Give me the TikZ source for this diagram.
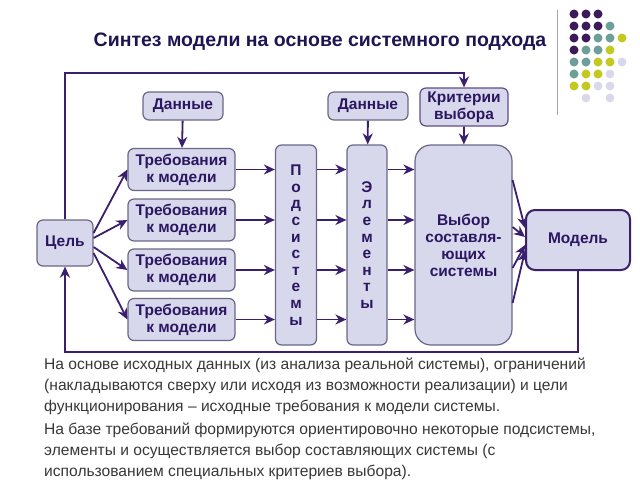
\documentclass[tikz,border=0pt]{standalone}
\usepackage{fontspec}
\setmainfont{Liberation Sans}
\usetikzlibrary{arrows.meta}

\definecolor{boxfill}{HTML}{D8D8EC}
\definecolor{boxline}{HTML}{6A6688}
\definecolor{inkpurple}{HTML}{2B1661}
\definecolor{flowpurple}{HTML}{3A1F6E}
\definecolor{titleblue}{HTML}{1F1452}
\definecolor{bodygray}{HTML}{383838}
\definecolor{dotpurple}{HTML}{3D1A5C}
\definecolor{dotteal}{HTML}{6E9E99}
\definecolor{dotyellow}{HTML}{C5C820}
\definecolor{dotlav}{HTML}{D9D9EA}

\tikzset{
  block/.style={draw=boxline, fill=boxfill, line width=1.2pt, rounded corners=6pt,
    text=inkpurple, font=\fontsize{15.5}{17}\selectfont\bfseries, align=center,
    inner sep=0pt},
  column/.style={block, minimum width=41pt, minimum height=200pt,
    font=\fontsize{15.5}{16.6}\selectfont\bfseries},
  flow/.style={draw=flowpurple, line width=1.8pt,
    -{Stealth[length=11pt,width=10pt,inset=3.5pt]}},
  plain/.style={draw=flowpurple, line width=1.8pt}
}

\begin{document}
\begin{tikzpicture}[x=1pt,y=-1pt]
    \useasboundingbox (0,0) rectangle (640,480);

    % title and decoration
    \node (title) at (320,42) {\fontsize{19.5}{22}\selectfont\bfseries\color{titleblue}Синтез модели на основе системного подхода};
    \draw [gray!70, line width=1pt] (557,10) -- (557,115);
    \fill [dotpurple] (574,14) circle (4.5pt) (586,14) circle (4.5pt) (598,14) circle (4.5pt);
    \fill [dotpurple] (574,26) circle (4.5pt) (586,26) circle (4.5pt) (598,26) circle (4.5pt);
    \fill [dotteal] (610,26) circle (4.5pt);
    \fill [dotpurple] (574,38) circle (4.5pt) (586,38) circle (4.5pt);
    \fill [dotteal] (598,38) circle (4.5pt) (610,38) circle (4.5pt);
    \fill [dotyellow] (622,38) circle (4.5pt);
    \fill [dotpurple] (574,50) circle (4.5pt);
    \fill [dotteal] (586,50) circle (4.5pt) (598,50) circle (4.5pt);
    \fill [dotyellow] (610,50) circle (4.5pt);
    \fill [dotteal] (574,62) circle (4.5pt) (586,62) circle (4.5pt);
    \fill [dotyellow] (598,62) circle (4.5pt) (610,62) circle (4.5pt);
    \fill [dotlav] (622,62) circle (4.5pt);
    \fill [dotteal] (574,74) circle (4.5pt);
    \fill [dotyellow] (586,74) circle (4.5pt) (598,74) circle (4.5pt);
    \fill [dotlav] (610,74) circle (4.5pt);
    \fill [dotyellow] (574,86) circle (4.5pt) (586,86) circle (4.5pt);
    \fill [dotlav] (598,86) circle (4.5pt) (610,86) circle (4.5pt);
    \fill [dotlav] (586,98) circle (4.5pt) (610,98) circle (4.5pt);

    % blocks
    \node [block, minimum width=56pt, minimum height=46pt] (goal) at (65,243) {Цель};
    \node [block, minimum width=80pt, minimum height=28pt] (data1) at (183,106) {Данные};
    \node [block, minimum width=80pt, minimum height=28pt] (data2) at (368,106) {Данные};
    \node [block, draw=flowpurple!80, minimum width=88pt, minimum height=38pt] (crit) at (464,107) {Критерии\\выбора};
    \node [block, minimum width=107pt, minimum height=42pt] (req1) at (181.5,169.5) {Требования\\к модели};
    \node [block, minimum width=107pt, minimum height=42pt] (req2) at (181.5,220) {Требования\\к модели};
    \node [block, minimum width=107pt, minimum height=42pt] (req3) at (181.5,270) {Требования\\к модели};
    \node [block, minimum width=107pt, minimum height=42pt] (req4) at (181.5,319.5) {Требования\\к модели};
    \node [column] (subsys) at (296,245) {П\\о\\д\\с\\и\\с\\т\\е\\м\\ы};
    \node [column, minimum width=40pt] (elem) at (367,245) {Э\\л\\е\\м\\е\\н\\т\\ы};
    \node [block, rounded corners=16pt, minimum width=97pt, minimum height=200pt] (choice) at (463.5,245) {Выбор\\составля-\\ющих\\системы};
    \node [block, draw=flowpurple, line width=2pt, rounded corners=9pt, minimum width=104pt, minimum height=60pt] (model) at (578,240) {Модель};

    % inputs from above
    \draw [flow] (data1) -- (req1);
    \draw [flow] (data2) -- (elem);
    \draw [flow] (crit) -- (choice);

    % goal to requirements
    \draw [flow] ([yshift=10pt]goal.east) -- (req1.west);
    \draw [flow] ([yshift=5pt]goal.east) -- (req2.west);
    \draw [flow] ([yshift=-4pt]goal.east) -- (req3.west);
    \draw [flow] ([yshift=-10pt]goal.east) -- (req4.west);

    % requirements -> subsystems -> elements -> choice
    \draw [flow] (req1.east) -- (req1.east -| subsys.west);
    \draw [flow] (req2.east) -- (req2.east -| subsys.west);
    \draw [flow] (req3.east) -- (req3.east -| subsys.west);
    \draw [flow] (req4.east) -- (req4.east -| subsys.west);
    \draw [flow] (req1.east -| subsys.east) -- (req1.east -| elem.west);
    \draw [flow] (req2.east -| subsys.east) -- (req2.east -| elem.west);
    \draw [flow] (req3.east -| subsys.east) -- (req3.east -| elem.west);
    \draw [flow] (req4.east -| subsys.east) -- (req4.east -| elem.west);
    \draw [flow] (req1.east -| elem.east) -- (req1.east -| choice.west);
    \draw [flow] (req2.east -| elem.east) -- (req2.east -| choice.west);
    \draw [flow] (req3.east -| elem.east) -- (req3.east -| choice.west);
    \draw [flow] (req4.east -| elem.east) -- (req4.east -| choice.west);

    % choice to model
    \draw [flow] ([yshift=65pt]choice.east) -- ([yshift=12pt]model.west);
    \draw [flow] ([yshift=18pt]choice.east) -- ([yshift=3pt]model.west);
    \draw [flow] ([yshift=-23pt]choice.east) -- ([yshift=-5pt]model.west);
    \draw [flow] ([yshift=-58pt]choice.east) -- ([yshift=-11pt]model.west);

    % feedback loops
    \coordinate (topturn) at (464,73);
    \coordinate (botturn) at (578,352);
    \draw [flow] (goal.north) |- (topturn) -- (crit.north);
    \draw [flow] (model.south) -- (botturn) -| (goal.south);

    % explanation
    \node [anchor=north west, align=left, inner sep=0pt, text=bodygray,
      font=\fontsize{15.6}{21}\selectfont] (notes) at (44,358)
      {На основе исходных данных (из анализа реальной системы), ограничений\\
       (накладываются сверху или исходя из возможности реализации) и цели\\
       функционирования – исходные требования к модели системы.\\[2pt]
       На базе требований формируются ориентировочно некоторые подсистемы,\\
       элементы и осуществляется выбор составляющих системы (с\\
       использованием специальных критериев выбора).};
\end{tikzpicture}
\end{document}
